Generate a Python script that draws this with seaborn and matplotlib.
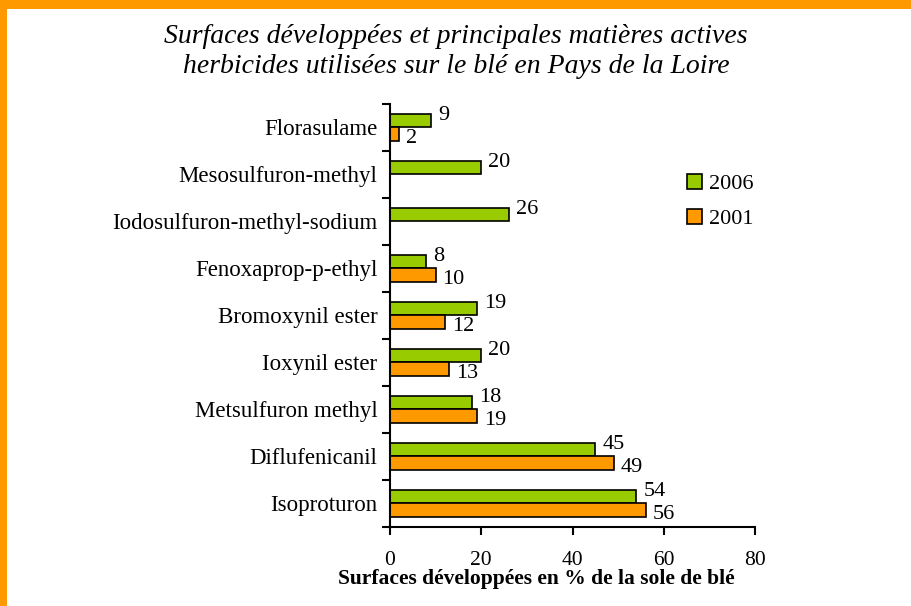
import numpy as np
import pandas as pd
import matplotlib
matplotlib.use('Agg')
import matplotlib.pyplot as plt
import seaborn as sns
from matplotlib.patches import Rectangle
from matplotlib.ticker import FixedLocator

# Dati
matieres = ['Florasulame', 'Mesosulfuron-methyl', 'Iodosulfuron-methyl-sodium',
            'Fenoxaprop-p-ethyl', 'Bromoxynil ester', 'Ioxynil ester',
            'Metsulfuron methyl', 'Diflufenicanil', 'Isoproturon']
valeurs_2006 = [9, 20, 26, 8, 19, 20, 18, 45, 54]
valeurs_2001 = [2, np.nan, np.nan, 10, 12, 13, 19, 49, 56]
annees = ['2006', '2001']
couleurs = ['#99CC00', '#FF9900']
x_ticks = [0, 20, 40, 60, 80]

# DataFrame in formato lungo
df = pd.DataFrame({
    'matiere': matieres * 2,
    'annee': ['2006'] * len(matieres) + ['2001'] * len(matieres),
    'valeur': valeurs_2006 + valeurs_2001,
})
df = df.dropna()

sns.set_theme(style='white')
plt.rcParams['font.family'] = ['Liberation Serif', 'DejaVu Serif']
for k in ['text.color', 'axes.labelcolor', 'xtick.color', 'ytick.color']:
    plt.rcParams[k] = 'black'

fig = plt.figure(figsize=(9.12, 6.06), dpi=100)
ax = fig.add_axes([0.4276, 0.1304, 0.4003, 0.698])

sns.barplot(data=df, y='matiere', x='valeur', hue='annee', order=matieres,
            hue_order=annees, palette=couleurs, orient='h', width=0.57,
            edgecolor='black', linewidth=1.2, saturation=1, ax=ax, legend=False)

# Etichette dei valori (2006 un po' sopra, 2001 un po' sotto)
offsets = [3.5, -3]
for cont, dy in zip(ax.containers, offsets):
    anns = ax.bar_label(cont, fmt='%.0f', padding=5, fontsize=16)
    for a in anns:
        a.xyann = (a.xyann[0], dy)

ax.set_xlim(0, 80)
ax.set_ylim(8.5, -0.5)
ax.set_xticks(x_ticks)
ax.set_xlabel('')
ax.set_ylabel('')
sns.despine(ax=ax)
for s in ['left', 'bottom']:
    ax.spines[s].set_color('black')
    ax.spines[s].set_linewidth(1.5)

# Tacche sull'asse y ai bordi delle categorie
ax.yaxis.set_minor_locator(FixedLocator(np.arange(-0.5, 9, 1)))
ax.tick_params(axis='y', which='major', length=0, pad=9, labelsize=16.5)
ax.tick_params(axis='y', which='minor', left=True, length=6, width=1.5, color='black')
ax.tick_params(axis='x', which='major', bottom=True, length=5.5, width=1.5, pad=12,
               labelsize=15.5)

# Legenda
handles = [Rectangle((0, 0), 1, 1, facecolor=c, edgecolor='black', linewidth=1.2)
           for c in couleurs]
fig.legend(handles, annees, loc='upper left', bbox_to_anchor=(0.753, 0.713),
           frameon=False, fontsize=16, handlelength=0.69, handleheight=0.69,
           handletextpad=0.3, labelspacing=0.65, borderpad=0, borderaxespad=0)

# Titolo
fig.text(0.5, 0.96, 'Surfaces développées et principales matières actives\n'
         'herbicides utilisées sur le blé en Pays de la Loire',
         ha='center', va='top', fontsize=20, style='italic', linespacing=1.25)

# Etichetta asse x
fig.text(536 / 912, 0.0445, 'Surfaces développées en % de la sole de blé',
         ha='center', va='center', fontsize=15.5, fontweight='bold')

# Bordo arancione in alto e a sinistra
fig.patches.append(Rectangle((0, 1 - 9 / 606), 1, 9 / 606, transform=fig.transFigure,
                             facecolor='#FF9900', edgecolor='none', zorder=0))
fig.patches.append(Rectangle((0, 0), 7 / 912, 1, transform=fig.transFigure,
                             facecolor='#FF9900', edgecolor='none', zorder=0))

fig.savefig('out.png', dpi=100)
